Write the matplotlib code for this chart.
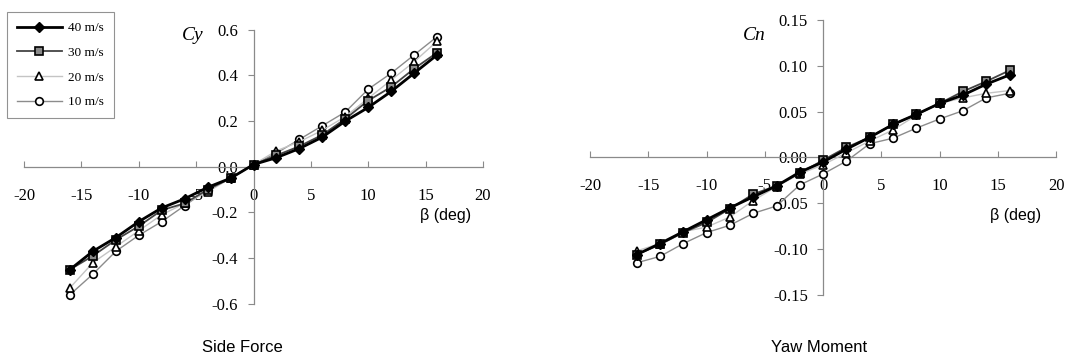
import numpy as np
import matplotlib
matplotlib.use("Agg")
import matplotlib.pyplot as plt

plt.rcParams["axes.unicode_minus"] = False

# sideslip angle (deg)
beta = [-16, -14, -12, -10, -8, -6, -4, -2, 0, 2, 4, 6, 8, 10, 12, 14, 16]

# side force coefficient
cy_40 = [-0.45, -0.37, -0.31, -0.24, -0.18, -0.14, -0.09, -0.05, 0.01, 0.04, 0.08, 0.13, 0.20, 0.26, 0.33, 0.41, 0.49]
cy_30 = [-0.45, -0.39, -0.32, -0.26, -0.19, -0.16, -0.10, -0.05, 0.01, 0.05, 0.09, 0.14, 0.21, 0.29, 0.35, 0.43, 0.50]
cy_20 = [-0.53, -0.42, -0.35, -0.28, -0.21, -0.16, -0.11, -0.05, 0.01, 0.07, 0.11, 0.16, 0.22, 0.30, 0.38, 0.46, 0.55]
cy_10 = [-0.56, -0.47, -0.37, -0.30, -0.24, -0.17, -0.10, -0.05, 0.01, 0.06, 0.12, 0.18, 0.24, 0.34, 0.41, 0.49, 0.57]

# yaw moment coefficient
cn_40 = [-0.106, -0.094, -0.081, -0.068, -0.055, -0.043, -0.031, -0.016, -0.005, 0.009, 0.022, 0.036, 0.047, 0.059, 0.068, 0.080, 0.090]
cn_30 = [-0.106, -0.095, -0.082, -0.071, -0.056, -0.040, -0.031, -0.017, -0.003, 0.011, 0.022, 0.036, 0.047, 0.059, 0.072, 0.083, 0.095]
cn_20 = [-0.102, -0.094, -0.081, -0.076, -0.065, -0.047, -0.032, -0.018, -0.008, 0.005, 0.018, 0.030, 0.046, 0.059, 0.065, 0.070, 0.073]
cn_10 = [-0.115, -0.108, -0.094, -0.082, -0.074, -0.061, -0.053, -0.030, -0.018, -0.004, 0.015, 0.021, 0.032, 0.042, 0.051, 0.065, 0.070]

speeds = ["40 m/s", "30 m/s", "20 m/s", "10 m/s"]

styles = [
    dict(color="black", lw=2.0, marker="D", ms=5, mfc="black", mec="black", mew=1.0, zorder=6),
    dict(color="#444444", lw=1.3, marker="s", ms=5.5, mfc="#8a8a8a", mec="black", mew=1.2, zorder=5),
    dict(color="#c4c4c4", lw=1.0, marker="^", ms=6, mfc="white", mec="black", mew=1.2, zorder=4),
    dict(color="#8c8c8c", lw=1.0, marker="o", ms=5.5, mfc="white", mec="black", mew=1.2, zorder=3),
]

serif = "Liberation Serif"
sans = "Liberation Sans"

fig = plt.figure(figsize=(10.69, 3.57), dpi=100)
ax1 = fig.add_axes([0.0225, 0.149, 0.4293, 0.7675])
ax2 = fig.add_axes([0.552, 0.174, 0.436, 0.770])


def style_axis(ax, ylim, yticks, yfmt):
    ax.set_xlim(-20, 20)
    ax.set_ylim(*ylim)
    for s in ["top", "right"]:
        ax.spines[s].set_visible(False)
    ax.spines["left"].set_position(("data", 0))
    ax.spines["bottom"].set_position(("data", 0))
    for s in ["left", "bottom"]:
        ax.spines[s].set_color("#8a8a8a")
        ax.spines[s].set_linewidth(0.9)
    ax.set_xticks([-20, -15, -10, -5, 0, 5, 10, 15, 20])
    ax.set_yticks(yticks)
    ax.set_yticklabels([yfmt.format(v) for v in yticks])
    ax.tick_params(axis="x", direction="in", length=4, pad=15, color="#8a8a8a", labelsize=12)
    ax.tick_params(axis="y", direction="out", length=4, pad=7, color="#8a8a8a", labelsize=12)
    for lab in ax.get_xticklabels() + ax.get_yticklabels():
        lab.set_fontfamily(serif)
    ax.patch.set_alpha(0)


lines = []
for data, st in zip([cy_40, cy_30, cy_20, cy_10], styles):
    ln, = ax1.plot(beta, data, clip_on=False, **st)
    lines.append(ln)
for data, st in zip([cn_40, cn_30, cn_20, cn_10], styles):
    ax2.plot(beta, data, clip_on=False, **st)

style_axis(ax1, (-0.6, 0.6), [-0.6, -0.4, -0.2, 0.0, 0.2, 0.4, 0.6], "{:.1f}")
style_axis(ax2, (-0.15, 0.15), [-0.15, -0.10, -0.05, 0.0, 0.05, 0.10, 0.15], "{:.2f}")

# axis names written as plain text like the original
ax1.text(-5.3, 0.575, "Cy", fontsize=14, style="italic", family=serif, ha="center", va="center")
ax1.text(16.7, -0.215, "\u03b2 (deg)", fontsize=11.5, family=sans, ha="center", va="center")
ax2.text(-5.9, 0.133, "Cn", fontsize=14, style="italic", family=serif, ha="center", va="center")
ax2.text(16.5, -0.063, "\u03b2 (deg)", fontsize=11.5, family=sans, ha="center", va="center")

fig.text(242 / 1069, 1 - 347 / 357, "Side Force", fontsize=12, family=sans, ha="center", va="center")
fig.text(819 / 1069, 1 - 347 / 357, "Yaw Moment", fontsize=12, family=sans, ha="center", va="center")

leg = fig.legend(lines, speeds, loc="upper left", bbox_to_anchor=(7 / 1069, 1 - 12 / 357),
                 prop={"family": serif, "size": 9.5}, handlelength=3.4, handletextpad=0.5,
                 labelspacing=0.95, borderpad=0.75, borderaxespad=0, fancybox=False, frameon=True)
leg.get_frame().set_edgecolor("#777777")
leg.get_frame().set_linewidth(0.8)

fig.savefig("out.png", dpi=100)
